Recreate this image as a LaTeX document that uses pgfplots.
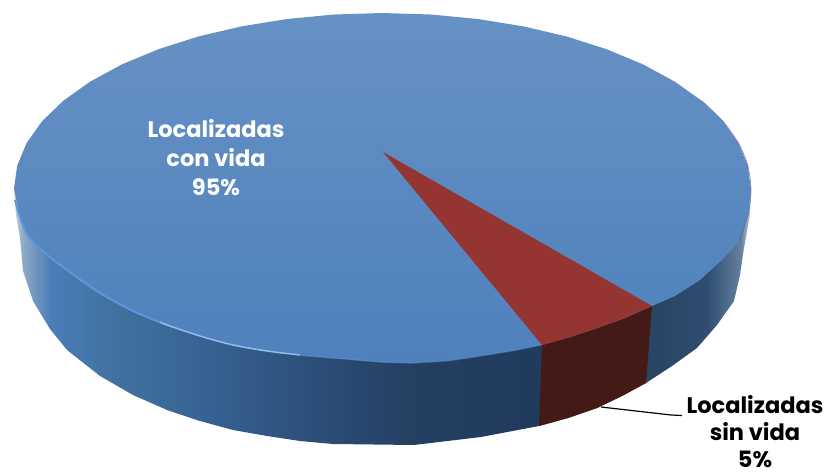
\documentclass[border=0pt]{standalone}
\usepackage{fontspec}
\setmainfont{Poppins}
\usepackage{pgfplots}
\usepackage{pgfplotstable}
\pgfplotsset{compat=1.18}

\definecolor{redtop}{HTML}{953532}
\definecolor{redside}{HTML}{431A15}
\definecolor{rimblue}{HTML}{5C97DC}
\definecolor{topa}{HTML}{6691C4}
\definecolor{topb}{HTML}{4F81BD}
\definecolor{edge}{HTML}{C4D0DF}
\definecolor{sa}{HTML}{8FA9C8}
\definecolor{sb}{HTML}{4A7DB8}
\definecolor{sc}{HTML}{41709F}
\definecolor{sd}{HTML}{34608F}
\definecolor{se}{HTML}{2B4D76}
\definecolor{sf}{HTML}{253F62}
\definecolor{sg}{HTML}{1F3A5C}
\definecolor{sh}{HTML}{2A4667}
\definecolor{si}{HTML}{2E4D70}
\definecolor{sj}{HTML}{64809E}

% side wall, dark towards the front, pale at both far ends
\pgfdeclarehorizontalshading{sidewall}{100bp}{
  color(0bp)=(edge);
  color(25bp)=(edge);
  color(25.6bp)=(sa);
  color(27.5bp)=(sb);
  color(32bp)=(sc);
  color(39bp)=(sd);
  color(46bp)=(se);
  color(52bp)=(sf);
  color(62bp)=(sg);
  color(69bp)=(sh);
  color(72bp)=(si);
  color(74.3bp)=(sj);
  color(75bp)=(edge);
  color(100bp)=(edge)}

\pgfplotstableread{
x y
14 188.5
17.2 165.6
26.6 143.1
42 121.3
63.4 100.7
90.1 81.7
121.9 64.4
158.2 49.3
198.2 36.5
241.5 26.4
287.1 19
334.4 14.5
382.5 13
430.6 14.5
477.9 19
523.5 26.4
566.8 36.5
606.8 49.3
643.1 64.4
674.9 81.7
701.6 100.7
723 121.3
738.4 143.1
747.8 165.6
751 190
748 215
739 241
723 259
700 280
675 296
652 306
625 318
597 328
570 337
542 345
512 351
481 356
448 361
414 363
382 362
333 358
300 355
267 351
233 345
200 336
167 325
133 311
100 293
67 270
45 253
28 236
20 217
14 188.5
}\topface

\pgfplotstableread{
x y
14 190
16 215
20 238
23 271
33 301
50 329
67 350
100 376
133 395
167 410
200 421
233 430
267 436
300 441
333 444
414 445
481 437
539 426
568 418
597 408
622 396
646 383
672 366
697 348
717 325
734 301
740 275
744 248
750 215
751 190
14 190
}\sidetable

\begin{document}
\begin{tikzpicture}
\begin{axis}[
  hide axis, scale only axis,
  width=828pt, height=476pt,
  xmin=0, xmax=828, ymin=0, ymax=476,
  y dir=reverse, clip=false]

% blue body
\addplot[draw=none, shading=sidewall] table {\sidetable};
% red part of the wall
\addplot[draw=none, fill=redside] coordinates {
  (542,345) (570,337) (597,328) (625,318) (652,306)
  (646,383) (622,396) (597,408) (568,418) (539,426) (542,345)};
% top face
\addplot[draw=none, top color=topa, bottom color=topb] table {\topface};
% rim highlight
\addplot[rimblue, line width=2pt, smooth] coordinates {
  (15,200) (20,217) (28,236) (45,253) (67,270) (100,293) (133,311) (167,325)};
\addplot[white!35!rimblue, line width=1.5pt, smooth] coordinates {
  (160,322) (167,325) (200,336) (233,345) (267,351) (300,355)};
\addplot[rimblue, line width=1.2pt, opacity=.6, smooth] coordinates {
  (296,355) (333,358) (382,362) (414,363)};
\addplot[rimblue, line width=1.2pt, opacity=.3, smooth] coordinates {
  (414,363) (448,361) (481,356) (512,351) (542,345)};
% dark soft edge on the far right
\addplot[black!45!blue!35!gray, line width=.8pt, opacity=.6, smooth] coordinates {
  (701.6,100.7) (723,121.3) (738.4,143.1) (747.8,165.6) (751,190) (748,215) (739,241)};
% red slice on top
\addplot[draw=none, fill=redtop] coordinates {
  (383,152) (652,306) (625,318) (597,328) (570,337) (542,345) (383,152)};
% leader
\addplot[black, line width=1.2pt] coordinates {(601,407) (671,415) (682,415.5)};

\node[white, inner sep=0pt, font=\fontsize{22.5}{29}\selectfont\bfseries, align=center]
  at (axis cs:216,157.5) {Localizadas\\con vida\\95\%};
\node[black, inner sep=0pt, font=\fontsize{22.5}{27}\selectfont\bfseries, align=center]
  at (axis cs:755,432) {Localizadas\\sin vida\\5\%};
\end{axis}
\pgfresetboundingbox
\path (current axis.south west) rectangle (current axis.north east);
\end{tikzpicture}
\end{document}
